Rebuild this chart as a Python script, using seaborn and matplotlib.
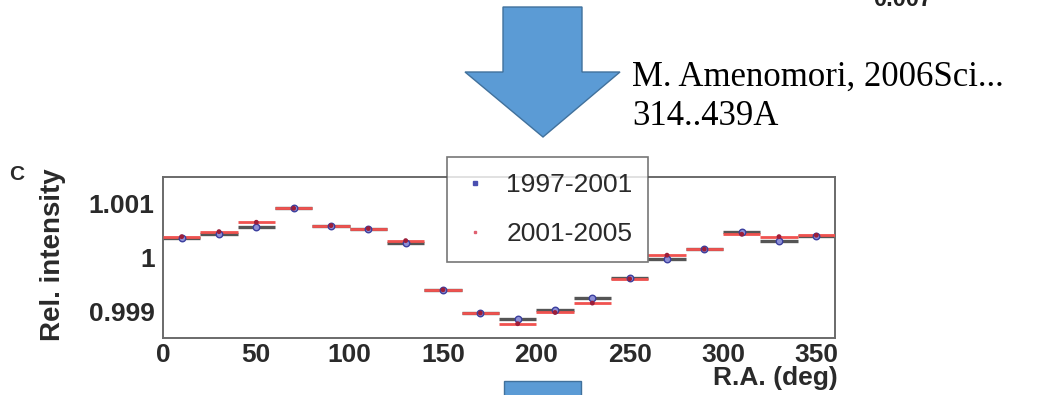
import matplotlib
matplotlib.use("Agg")
import matplotlib.pyplot as plt
from matplotlib.patches import Polygon, Rectangle
from matplotlib.lines import Line2D
import numpy as np
import pandas as pd
import seaborn as sns

# Right-ascension bin centres (deg), 20-degree bins
ra_deg = [10, 30, 50, 70, 90, 110, 130, 150, 170, 190,
          210, 230, 250, 270, 290, 310, 330, 350]
bin_half_width = 10

# Relative intensity per bin
intensity_1997_2001 = [1.000352, 1.000426, 1.000556, 1.000907, 1.000580, 1.000524,
                       1.000270, 0.999394, 0.998963, 0.998852, 0.999019, 0.999241,
                       0.999622, 0.999963, 1.000148, 1.000463, 1.000307, 1.000394]
intensity_2001_2005 = [1.000380, 1.000474, 1.000648, 1.000907, 1.000585, 1.000530,
                       1.000307, 0.999394, 0.998963, 0.998765, 0.998974, 0.999148,
                       0.999598, 1.000037, 1.000148, 1.000426, 1.000381, 1.000407]

series_labels = ["1997-2001", "2001-2005"]
x_ticks = [0, 50, 100, 150, 200, 250, 300, 350]
y_ticks = [0.999, 1.0, 1.001]
y_tick_labels = ["0.999", "1", "1.001"]

sns.set_theme(style="white")
plt.rcParams["font.family"] = ["Liberation Sans", "DejaVu Sans"]

W, H = 1039, 395
fig = plt.figure(figsize=(W / 100, H / 100), dpi=100)


def fx(px):
    return px / W


def fy(py):
    return 1 - py / H


# Slide arrow (down) above the chart
arrow_color = "#5B9BD5"
arrow_edge = "#41719C"
arrow = Polygon([(fx(503), fy(7)), (fx(582), fy(7)), (fx(582), fy(72)),
                 (fx(620), fy(72)), (fx(543), fy(137)), (fx(465), fy(72)),
                 (fx(503), fy(72))], closed=True, transform=fig.transFigure,
                facecolor=arrow_color, edgecolor=arrow_edge, lw=1.0, zorder=1)
fig.patches.append(arrow)

# Stub of the next arrow below the chart
stub = Rectangle((fx(504), fy(400)), fx(581) - fx(504), fy(381) - fy(400),
                 transform=fig.transFigure, facecolor=arrow_color,
                 edgecolor=arrow_edge, lw=1.0, zorder=1)
fig.patches.append(stub)

# Citation
fig.text(fx(632), fy(86), "M. Amenomori, 2006Sci...", family="Liberation Serif",
         fontsize=25, color="black", ha="left", va="baseline")
fig.text(fx(632), fy(125), "314..439A", family="Liberation Serif",
         fontsize=25, color="black", ha="left", va="baseline")

# Remnant of the panel above, running off the top edge
fig.text(fx(873), fy(6), "0.007", fontsize=17, fontweight="bold",
         color="#222222", ha="left", va="baseline")

# Main chart
ax = fig.add_axes([fx(163), fy(337.7), fx(835) - fx(163), fy(177) - fy(337.7)])

df = pd.DataFrame({
    "ra": ra_deg * 2,
    "intensity": intensity_1997_2001 + intensity_2001_2005,
    "period": [series_labels[0]] * len(ra_deg) + [series_labels[1]] * len(ra_deg),
})

ax.errorbar(ra_deg, intensity_1997_2001, xerr=bin_half_width, fmt="none",
            ecolor="#555555", elinewidth=2.4, capsize=0, zorder=2)
ax.errorbar(ra_deg, intensity_2001_2005, xerr=bin_half_width, fmt="none",
            ecolor="#f0524f", elinewidth=2.0, capsize=0, zorder=3)

d1 = df[df["period"] == series_labels[0]]
d2 = df[df["period"] == series_labels[1]]
sns.scatterplot(data=d1, x="ra", y="intensity", ax=ax, marker="o", s=22,
                facecolor="#8d8fd6", edgecolor="#3b3f9e", linewidth=1.0,
                legend=False, zorder=4)
sns.scatterplot(data=d2, x="ra", y="intensity", ax=ax, marker="o", s=12,
                color="#9c1e3a", edgecolor="none", legend=False, zorder=5)

ax.set_xlim(0, 360)
ax.set_ylim(0.998506, 1.001487)
ax.set_xticks(x_ticks)
ax.set_xticklabels([str(t) for t in x_ticks])
ax.set_yticks(y_ticks)
ax.set_yticklabels(y_tick_labels)

for sp in ax.spines.values():
    sp.set_color("#6a6a6a")
    sp.set_linewidth(1.4)

ax.tick_params(axis="y", direction="in", length=14, width=1.0, color="#555555",
               labelsize=19, pad=6)
ax.tick_params(axis="x", direction="in", length=4, width=1.0, color="#555555",
               labelsize=19, pad=4)
for lab in ax.get_xticklabels() + ax.get_yticklabels():
    lab.set_fontweight("bold")
    lab.set_color("#2a2a2a")

ax.set_xlabel("")
ax.set_ylabel("")
fig.text(fx(53), fy(255), "Rel. intensity", rotation=90, fontsize=20,
         fontweight="bold", color="#2a2a2a", ha="center", va="center")
fig.text(fx(838), fy(378), "R.A. (deg)", fontsize=19, fontweight="bold",
         color="#2a2a2a", ha="right", va="center")
fig.text(fx(17), fy(174), "C", fontsize=15, fontweight="bold",
         color="#2a2a2a", ha="center", va="center")

handles = [
    Line2D([], [], linestyle="none", marker="s", markersize=2.5,
           color="#4a4fb0"),
    Line2D([], [], linestyle="none", marker="s", markersize=1.8,
           color="#e06070"),
]
leg = fig.legend(handles, series_labels, loc="upper left",
                 bbox_to_anchor=(fx(447), fy(157)), bbox_transform=fig.transFigure,
                 frameon=True, fancybox=False, fontsize=19, labelspacing=0.95,
                 handletextpad=0.75, handlelength=0.9, borderpad=0.6,
                 borderaxespad=0)
leg.get_frame().set_edgecolor("#555555")
leg.get_frame().set_linewidth(1.2)
for t in leg.get_texts():
    t.set_color("#2a2a2a")
leg.set_zorder(10)

fig.savefig("out.png", dpi=100)
